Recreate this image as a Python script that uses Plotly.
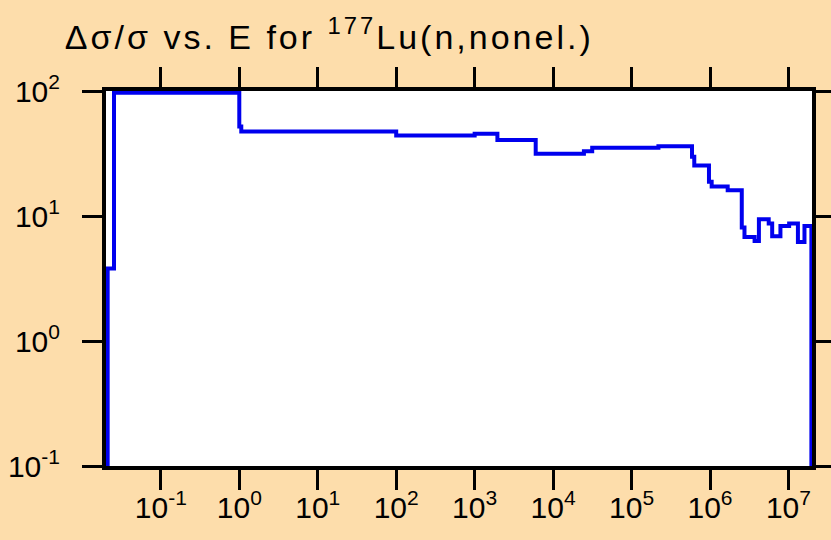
import numpy as np
import plotly.graph_objects as go

# step curve: bin edge energies (eV) and relative uncertainty (%)
energy = [0.021, 0.021, 0.0253, 1.0, 1.06, 100, 1000, 1950, 6000, 24700, 31500,
          220000, 590000, 630000, 970000, 1.05e6, 1.68e6, 2.54e6, 2.75e6, 3.7e6,
          4.2e6, 5.6e6, 6.2e6, 7.9e6, 1.02e7, 1.32e7, 1.6e7, 1.96e7]
rel_unc = [0.1, 3.8, 97, 52, 47.5, 44, 45.5, 40.5, 31.5, 33, 35.2,
           36.2, 29.8, 25.3, 18.8, 17.2, 16.1, 8.1, 6.8, 6.3,
           9.4, 8.7, 6.9, 8.3, 8.7, 6.2, 8.3, 0.1]

x_exps = [-1, 0, 1, 2, 3, 4, 5, 6, 7]
y_exps = [-1, 0, 1, 2]

BG = "#FDDDAB"
FONT = "Liberation Sans, Arial, sans-serif"

fig = go.Figure()
fig.add_trace(go.Scatter(x=energy, y=rel_unc, mode="lines", line_shape="hv",
                         line=dict(color="#0000EE", width=4), showlegend=False))

axis_common = dict(type="log", showgrid=False, zeroline=False, showline=True,
                   linecolor="black", linewidth=4, mirror="allticks",
                   ticks="outside", ticklen=20, tickwidth=3, tickcolor="black",
                   automargin=False,
                   tickfont=dict(family=FONT, size=30, color="black"))

fig.update_xaxes(range=[np.log10(0.02), 7.30],
                 tickvals=[10.0 ** e for e in x_exps],
                 ticktext=["10<sup>%d</sup>" % e for e in x_exps],
                 ticklabelstandoff=-8, **axis_common)
fig.update_yaxes(range=[-1, 2],
                 tickvals=[10.0 ** e for e in y_exps],
                 ticktext=["10<sup>%d</sup>" % e for e in y_exps],
                 ticklabelstandoff=16, **axis_common)

fig.update_layout(
    width=831, height=540,
    paper_bgcolor=BG, plot_bgcolor="white",
    margin=dict(l=106, r=19, t=91, b=74),
    title=dict(text="Δσ/σ vs. E for <sup>177</sup>Lu(n,nonel.)",
               font=dict(family=FONT, size=34, color="black"),
               xref="container", x=0.078, xanchor="left",
               yref="container", y=0.932, yanchor="middle"),
)

# page without body margin; the title in the reference is loosely spaced
css = "body{margin:0} .gtitle{letter-spacing:3px}"
post = ("var s=document.createElement('style');s.innerHTML='%s';"
        "document.head.appendChild(s);" % css)
fig.write_html("out.html", post_script=post, config={"displayModeBar": False})
